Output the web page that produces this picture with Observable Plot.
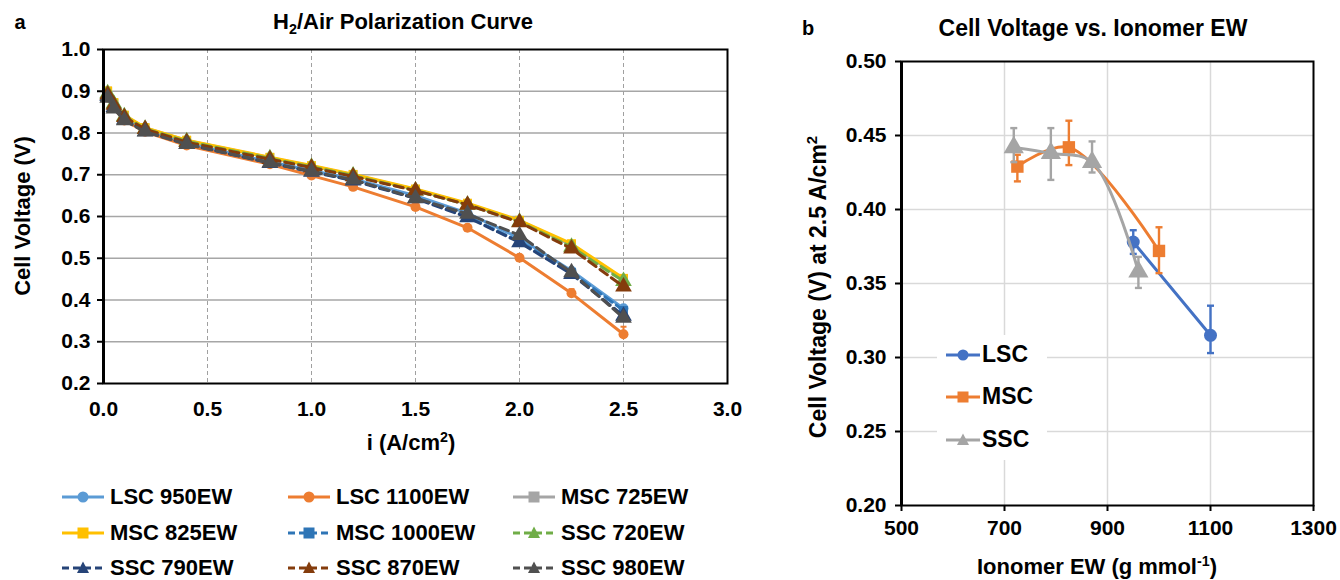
<!DOCTYPE html>
<html><head><meta charset="utf-8">
<script src="https://cdn.jsdelivr.net/npm/d3@7"></script>
<script src="https://cdn.jsdelivr.net/npm/@observablehq/plot@0.6"></script>
<style>
body{margin:0;background:#fff;font-family:"Liberation Sans",Arial,sans-serif;font-weight:bold;color:#000;}
#wrap{position:relative;width:1340px;height:580px;overflow:hidden;background:#fff;}
.abs{position:absolute;white-space:nowrap;line-height:1;}
.abs svg{display:block;overflow:visible;}
sup,sub{font-size:65%;line-height:0;}
.lg{position:absolute;display:flex;align-items:center;font-size:22px;white-space:nowrap;line-height:1;}
.lg svg{margin-right:6px;}
</style></head><body><div id="wrap"></div>
<script>
// ---------- Panel a data ----------
const current = [0.02, 0.05, 0.1, 0.2, 0.4, 0.8, 1.0, 1.2, 1.5, 1.75, 2.0, 2.25, 2.5];
const lsc950  = [0.890, 0.865, 0.835, 0.806, 0.775, 0.731, 0.710, 0.690, 0.650, 0.608, 0.548, 0.470, 0.380];
const lsc1100 = [0.885, 0.860, 0.830, 0.803, 0.770, 0.725, 0.698, 0.671, 0.623, 0.573, 0.501, 0.416, 0.318];
const msc725  = [0.900, 0.872, 0.842, 0.812, 0.782, 0.741, 0.721, 0.700, 0.665, 0.630, 0.590, 0.532, 0.450];
const msc825  = [0.901, 0.873, 0.843, 0.813, 0.783, 0.742, 0.722, 0.701, 0.666, 0.632, 0.591, 0.535, 0.452];
const msc1000 = [0.888, 0.862, 0.833, 0.805, 0.774, 0.729, 0.708, 0.687, 0.645, 0.600, 0.540, 0.466, 0.375];
const ssc720  = [0.895, 0.870, 0.840, 0.810, 0.780, 0.739, 0.719, 0.698, 0.662, 0.628, 0.587, 0.527, 0.445];
const ssc790  = [0.888, 0.862, 0.832, 0.804, 0.773, 0.728, 0.707, 0.686, 0.643, 0.598, 0.538, 0.462, 0.362];
const ssc870  = [0.892, 0.867, 0.838, 0.809, 0.778, 0.737, 0.717, 0.696, 0.662, 0.628, 0.586, 0.523, 0.432];
const ssc980  = [0.884, 0.858, 0.830, 0.803, 0.773, 0.729, 0.708, 0.688, 0.644, 0.606, 0.555, 0.466, 0.357];
const lsc1100ErrX  = [2.25, 2.5];
const lsc1100ErrLo = [0.408, 0.305];
const lsc1100ErrHi = [0.426, 0.336];
const seriesNamesA  = ["LSC 950EW","LSC 1100EW","MSC 725EW","MSC 825EW","MSC 1000EW","SSC 720EW","SSC 790EW","SSC 870EW","SSC 980EW"];
const seriesValuesA = [lsc950, lsc1100, msc725, msc825, msc1000, ssc720, ssc790, ssc870, ssc980];
const seriesColorsA = ["#5B9BD5","#ED7D31","#A5A5A5","#FFC000","#2E75B6","#70AD47","#264478","#843C0C","#505050"];
const seriesSymbolsA = ["circle","circle","square","square","square","triangle","triangle","triangle","triangle"];
const seriesDashedA = [false,false,false,false,true,true,true,true,true];
const xTicksA = [0, 0.5, 1.0, 1.5, 2.0, 2.5, 3.0];
const yTicksA = [0.2, 0.3, 0.4, 0.5, 0.6, 0.7, 0.8, 0.9, 1.0];

// ---------- Panel b data ----------
const lscEW = [950, 1100], lscV = [0.378, 0.315], lscLo = [0.370, 0.303], lscHi = [0.386, 0.335];
const mscEW = [725, 825, 1000], mscV = [0.429, 0.442, 0.372], mscLo = [0.419, 0.430, 0.357], mscHi = [0.437, 0.460, 0.388];
const sscEW = [718, 790, 870, 960], sscV = [0.442, 0.438, 0.432, 0.358], sscLo = [0.432, 0.420, 0.425, 0.347], sscHi = [0.455, 0.455, 0.446, 0.368];
const seriesNamesB = ["LSC", "MSC", "SSC"];
const seriesColorsB = ["#4472C4", "#ED7D31", "#A5A5A5"];
const seriesSymbolsB = ["circle", "square", "triangle"];
const seriesCurvesB = ["linear", "catmull-rom", "catmull-rom"];
const xTicksB = [500, 700, 900, 1100, 1300];
const yTicksB = [0.20, 0.25, 0.30, 0.35, 0.40, 0.45, 0.50];

// ---------- helpers ----------
const wrap = document.getElementById("wrap");
function place(el, left, top) {
  const d = document.createElement("div");
  d.className = "abs";
  d.style.left = left + "px"; d.style.top = top + "px";
  d.appendChild(el);
  wrap.appendChild(d);
}
function label(html, cx, cy, size, rotate) {
  const d = document.createElement("div");
  d.className = "abs";
  d.style.fontSize = size + "px";
  d.innerHTML = html;
  d.style.left = cx + "px"; d.style.top = cy + "px";
  d.style.transform = "translate(-50%,-50%)" + (rotate ? " rotate(-90deg)" : "");
  wrap.appendChild(d);
}
const capSymbol = {draw(ctx, size) { const r = Math.sqrt(size / Math.PI); ctx.moveTo(-r, 0); ctx.lineTo(r, 0); }};
const fontStyle = {fontFamily: '"Liberation Sans", Arial, sans-serif', fontSize: "21px", fontWeight: "bold", background: "transparent", color: "#000", overflow: "visible"};

// ---------- Panel a ----------
const marksA = [
  Plot.ruleY(yTicksA.slice(1, -1), {stroke: "#a6a6a6", strokeWidth: 1.5}),
  Plot.ruleX(xTicksA.slice(1, -1), {stroke: "#a0a0a0", strokeWidth: 1, strokeDasharray: "4,3"})
];
seriesNamesA.forEach((name, k) => {
  const rows = current.map((x, i) => ({x, y: seriesValuesA[k][i]}));
  marksA.push(Plot.line(rows, {x: "x", y: "y", stroke: seriesColorsA[k], strokeWidth: 3,
    strokeDasharray: seriesDashedA[k] ? "9,5" : null, strokeLinejoin: "round"}));
  if (name === "LSC 1100EW") {
    const err = lsc1100ErrX.map((x, i) => ({x, lo: lsc1100ErrLo[i], hi: lsc1100ErrHi[i]}));
    marksA.push(Plot.ruleX(err, {x: "x", y1: "lo", y2: "hi", stroke: seriesColorsA[k], strokeWidth: 2}));
    marksA.push(Plot.dot(err, {x: "x", y: "hi", symbol: capSymbol, r: 3, fill: "none", stroke: seriesColorsA[k], strokeWidth: 2}));
  }
  marksA.push(Plot.dot(rows, {x: "x", y: "y", symbol: seriesSymbolsA[k], r: seriesSymbolsA[k] === "triangle" ? 6.2 : 5,
    fill: seriesColorsA[k], stroke: "none"}));
});
marksA.push(
  Plot.frame({stroke: "#000", strokeWidth: 2}),
  Plot.ruleX([0], {stroke: "#000", strokeWidth: 3}),
  Plot.axisY({ticks: yTicksA, tickFormat: d => d.toFixed(1), tickSize: 6, strokeWidth: 2, tickPadding: 7, label: null}),
  Plot.axisX({ticks: xTicksA, tickFormat: d => d.toFixed(1), tickSize: 0, tickPadding: 18, label: null})
);
const plotA = Plot.plot({
  width: 750, height: 430,
  marginLeft: 103, marginRight: 23, marginTop: 19, marginBottom: 77,
  x: {domain: [0, 3]}, y: {domain: [0.2, 1.0]},
  style: fontStyle,
  marks: marksA
});
place(plotA, 0, 30);

// ---------- Panel b ----------
const marksB = [
  Plot.ruleY(yTicksB.slice(1, -1), {stroke: "#d9d9d9", strokeWidth: 1.5}),
  Plot.ruleX(xTicksB.slice(1, -1), {stroke: "#d9d9d9", strokeWidth: 1.5})
];
const bEW = [lscEW, mscEW, sscEW], bV = [lscV, mscV, sscV], bLo = [lscLo, mscLo, sscLo], bHi = [lscHi, mscHi, sscHi];
seriesNamesB.forEach((name, k) => {
  const rows = bEW[k].map((x, i) => ({x, y: bV[k][i], lo: bLo[k][i], hi: bHi[k][i]}));
  const c = seriesColorsB[k];
  marksB.push(
    Plot.line(rows, {x: "x", y: "y", stroke: c, strokeWidth: 3, curve: seriesCurvesB[k]}),
    Plot.ruleX(rows, {x: "x", y1: "lo", y2: "hi", stroke: c, strokeWidth: 2.4}),
    Plot.dot(rows, {x: "x", y: "lo", symbol: capSymbol, r: 3.5, fill: "none", stroke: c, strokeWidth: 2.4}),
    Plot.dot(rows, {x: "x", y: "hi", symbol: capSymbol, r: 3.5, fill: "none", stroke: c, strokeWidth: 2.4}),
    Plot.dot(rows, {x: "x", y: "y", symbol: seriesSymbolsB[k], r: seriesSymbolsB[k] === "triangle" ? 7.5 : (seriesSymbolsB[k] === "square" ? 7 : 6.5), fill: c, stroke: "none"})
  );
});
marksB.push(
  Plot.frame({stroke: "#000", strokeWidth: 2}),
  Plot.ruleX([500], {stroke: "#000", strokeWidth: 3}),
  Plot.axisY({ticks: yTicksB, tickFormat: d => d.toFixed(2), tickSize: 6, strokeWidth: 2, tickPadding: 9, label: null}),
  Plot.axisX({ticks: xTicksB, tickFormat: d => String(d), tickSize: 6, strokeWidth: 2, tickPadding: 9, label: null})
);
const plotB = Plot.plot({
  width: 550, height: 520,
  marginLeft: 111, marginRight: 27, marginTop: 21, marginBottom: 55,
  x: {domain: [500, 1300]}, y: {domain: [0.2, 0.5]},
  style: fontStyle,
  marks: marksB
});
place(plotB, 790, 40);

// ---------- titles & axis labels ----------
label("a", 20, 22, 20);
label("H<sub>2</sub>/Air Polarization Curve", 403, 22, 22);
label("Cell Voltage (V)", 23, 216, 22, true);
label("i (A/cm<sup>2</sup>)", 411, 443, 22);
label("b", 808, 28, 20);
label("Cell Voltage vs. Ionomer EW", 1093, 28, 23);
label("Cell Voltage (V) at 2.5 A/cm<sup>2</sup>", 818, 287, 23, true);
label("Ionomer EW (g mmol<sup>-1</sup>)", 1097, 567, 22);

// ---------- legends ----------
function swatch(color, symbol, dashed, w) {
  const h = 16, cy = 8, cx = w / 2;
  let m = "";
  if (symbol === "circle") m = `<circle cx="${cx}" cy="${cy}" r="5.5" fill="${color}"/>`;
  else if (symbol === "square") m = `<rect x="${cx - 5.5}" y="${cy - 5.5}" width="11" height="11" fill="${color}"/>`;
  else m = `<path d="M${cx},${cy - 6.5}L${cx + 6},${cy + 5}L${cx - 6},${cy + 5}Z" fill="${color}"/>`;
  const dash = dashed ? ` stroke-dasharray="7,4"` : "";
  return `<svg width="${w}" height="${h}"><line x1="0" y1="${cy}" x2="${w}" y2="${cy}" stroke="${color}" stroke-width="3"${dash}/>${m}</svg>`;
}
const colX = [62, 288, 513], rowY = [497, 533, 568];
seriesNamesA.forEach((name, k) => {
  const d = document.createElement("div");
  d.className = "lg";
  d.style.left = colX[k % 3] + "px";
  d.style.top = (rowY[Math.floor(k / 3)] - 11) + "px";
  d.innerHTML = swatch(seriesColorsA[k], seriesSymbolsA[k], seriesDashedA[k], 42) + `<span>${name}</span>`;
  wrap.appendChild(d);
});
const bgB = document.createElement("div");
bgB.className = "abs";
Object.assign(bgB.style, {left: "937px", top: "335px", width: "110px", height: "125px", background: "#fff"});
wrap.appendChild(bgB);
const rowYB = [355, 397, 440];
seriesNamesB.forEach((name, k) => {
  const d = document.createElement("div");
  d.className = "lg";
  d.style.left = "946px";
  d.style.top = (rowYB[k] - 12) + "px";
  d.style.fontSize = "23px";
  d.innerHTML = swatch(seriesColorsB[k], seriesSymbolsB[k], false, 34) + `<span>${name}</span>`;
  d.querySelector("svg").style.marginRight = "2px";
  wrap.appendChild(d);
});
</script></body></html>
